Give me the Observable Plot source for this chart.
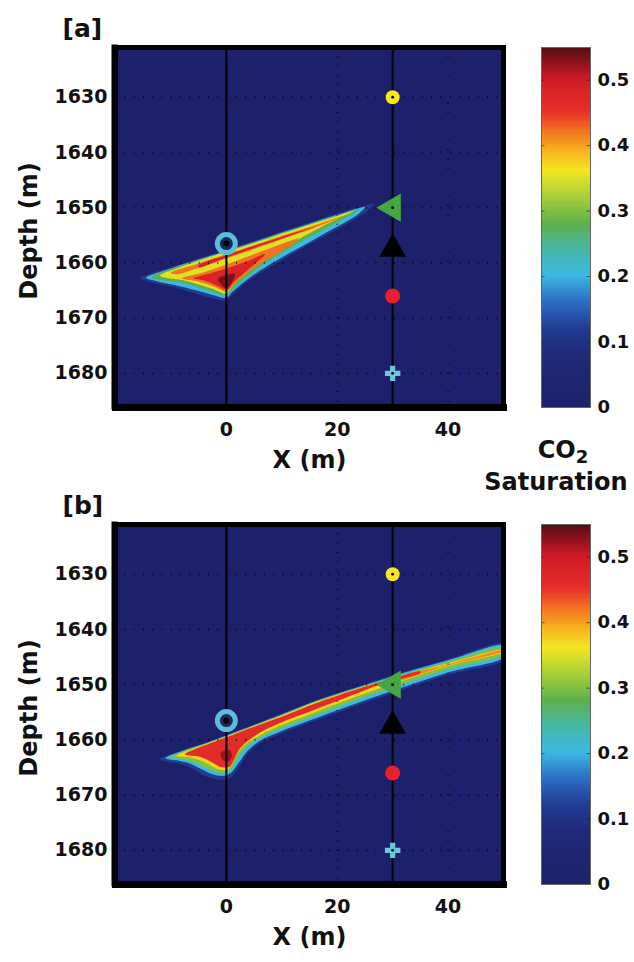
<!DOCTYPE html>
<html><head><meta charset="utf-8">
<script src="https://cdn.jsdelivr.net/npm/d3@7"></script>
<script src="https://cdn.jsdelivr.net/npm/@observablehq/plot@0.6"></script>
<style>
body{margin:0;background:#fff;}
#wrap{position:relative;width:634px;height:962px;overflow:hidden;font-family:"DejaVu Sans",sans-serif;font-weight:bold;color:#111;}
#wrap svg{position:absolute;}
.lbl{position:absolute;white-space:nowrap;transform:translate(-50%,-50%);font-size:24px;line-height:1;}
</style></head><body><div id="wrap"></div>
<script>
// ---------- data ----------
const xTicks = [0, 20, 40];
const dottedX = [20, 40];
const depthTicks = [1630, 1640, 1650, 1660, 1670, 1680];
const cbarTicks = [0, 0.1, 0.2, 0.3, 0.4, 0.5];
const stopValues = [0, 0.08, 0.12, 0.16, 0.2, 0.24, 0.28, 0.32, 0.36, 0.39, 0.42, 0.45, 0.5, 0.55];
const stopColors = ["#1d216b","#1f2a7a","#213c92","#2b6ec2","#3cb8e2","#46b6a6","#5db14a","#a8cf3a","#f3e620","#f7b21e","#f27421","#e7302a","#cf1a25","#4f0c12"];
const wells = [0, 30];
const markerKind = ["yellow", "green", "black", "red", "cyan"];
const markerX = [30, 30, 30, 30, 30];
const markerDepth = [1630, 1650, 1657.5, 1666, 1680];
const injX = [0];
const injDepth = [1656.5];

// plume contour polygons [x (m), depth (m)] with CO2 saturation level
const plumeA = [
  {level: 0.12, pts: [[-15.5,1662.8],[-10,1660.8],[-5,1659.2],[0,1657.6],[5,1656.0],[10,1654.3],[15,1652.7],[20,1651.1],[24,1649.9],[26.5,1649.4],[25.5,1650.5],[22.5,1652.5],[18,1655.0],[14,1657.2],[10,1659.5],[6,1661.9],[3,1664.0],[1,1665.8],[0,1666.8],[-2.5,1666.4],[-5,1665.7],[-8,1664.8],[-11,1664.1],[-14,1663.4]]},
  {level: 0.2, pts: [[-14.5,1662.7],[-10,1661.0],[-5,1659.4],[0,1657.8],[5,1656.2],[10,1654.5],[15,1652.9],[20,1651.3],[25,1649.9],[24,1651.0],[21.5,1652.6],[17.5,1654.8],[14,1656.8],[10,1659.0],[6,1661.4],[3,1663.6],[1,1665.3],[0,1666.3],[-2.5,1665.8],[-5,1665.1],[-8,1664.3],[-11,1663.7],[-13,1663.2]]},
  {level: 0.28, pts: [[-13.5,1662.6],[-10,1661.1],[-5,1659.5],[0,1657.9],[5,1656.3],[10,1654.6],[15,1653.0],[20,1651.4],[24,1650.3],[22,1651.6],[18.5,1653.5],[14.5,1655.6],[10.5,1657.9],[6.5,1660.4],[3.5,1662.7],[1.2,1664.7],[0,1665.9],[-2.5,1665.2],[-5,1664.4],[-8,1663.6],[-11,1663.2]]},
  {level: 0.35, pts: [[-12,1662.3],[-9,1661.0],[-5,1659.6],[0,1658.0],[5,1656.4],[10,1654.7],[15,1653.1],[20,1651.5],[23,1650.6],[20,1652.0],[16,1654.1],[12,1656.3],[8,1658.7],[5,1660.8],[2.5,1662.8],[0.8,1664.6],[0,1665.6],[-2.5,1664.7],[-5,1663.9],[-8,1663.1],[-10.5,1662.8]]},
  {level: 0.42, pts: [[-10,1661.8],[-5,1660.1],[0,1658.4],[5,1656.8],[10,1655.1],[15,1653.5],[21,1651.5],[15,1654.0],[10,1655.7],[5,1657.5],[0,1659.2],[-5,1660.9],[-9,1662.1]]},
  {level: 0.42, pts: [[-8,1662.8],[-4,1661.7],[0,1660.3],[4,1658.8],[8,1657.3],[13,1655.6],[10,1657.8],[7,1659.6],[4,1661.6],[2,1663.3],[0.5,1664.8],[0,1665.2],[-2.5,1664.2],[-5,1663.4]]},
  {level: 0.48, pts: [[-6,1662.8],[-3,1661.9],[0,1661.0],[3.5,1659.8],[7,1658.4],[5,1660.3],[3,1662.0],[1.2,1663.6],[0.2,1664.8],[-2,1664.0],[-4,1663.2]]},
  {level: 0.48, pts: [[-5,1660.4],[0,1658.6],[5,1656.9],[10,1655.3],[16,1653.4],[10,1655.6],[5,1657.3],[0,1659.0],[-5,1660.8]]},
  {level: 0.53, pts: [[-1.5,1662.9],[0,1662.2],[1.5,1662.0],[1,1663.6],[0,1664.6],[-1,1663.8]]}
];
const plumeB = [
  {level: 0.12, pts: [[-12,1663.5],[-8,1662.0],[-4,1660.6],[0,1659.1],[5,1657.2],[10,1655.2],[16,1652.9],[23,1650.6],[30,1648.3],[40,1645.4],[50.5,1642.6],[50.5,1645.2],[40,1648.2],[30,1651.5],[22,1654.3],[15,1656.9],[10,1658.8],[6,1660.6],[4,1662.3],[2.5,1664.6],[1,1666.6],[-0.5,1667.2],[-2.5,1667.0],[-4.5,1666.2],[-6.5,1665.0],[-9,1664.2]]},
  {level: 0.2, pts: [[-11,1663.3],[-8,1662.0],[-4,1660.7],[0,1659.2],[5,1657.3],[10,1655.4],[16,1653.0],[23,1650.7],[30,1648.5],[40,1645.6],[50.5,1642.9],[50.5,1644.8],[40,1647.8],[30,1651.1],[22,1653.9],[15,1656.5],[10,1658.4],[6,1660.2],[3.8,1662.0],[2.2,1664.2],[0.8,1666.0],[-0.5,1666.5],[-2.5,1666.2],[-4.5,1665.3],[-6.5,1664.3],[-9,1663.7]]},
  {level: 0.3, pts: [[-10,1663.1],[-8,1662.1],[-4,1660.8],[0,1659.3],[5,1657.4],[10,1655.5],[16,1653.1],[23,1650.8],[30,1648.7],[40,1645.8],[50.5,1643.2],[50.5,1644.3],[40,1647.2],[30,1650.5],[22,1653.3],[15,1656.0],[10,1657.9],[6,1659.7],[3.3,1661.6],[1.8,1663.8],[0.5,1665.7],[-1,1666.0],[-3,1665.4],[-5,1664.4],[-7,1663.7],[-8.5,1663.4]]},
  {level: 0.37, pts: [[-9,1662.9],[-6,1661.6],[-3,1660.5],[0,1659.4],[5,1657.5],[10,1655.6],[16,1653.2],[23,1650.9],[30,1648.9],[40,1646.1],[50.5,1643.6],[50.5,1643.9],[40,1646.6],[30,1649.9],[22,1652.7],[15,1655.4],[10,1657.3],[6,1659.2],[3,1661.2],[1.5,1663.3],[0.3,1665.3],[-1.5,1665.3],[-3,1664.5],[-5,1663.6],[-7,1663.1]]},
  {level: 0.41, pts: [[30,1649.1],[40,1646.3],[50.5,1643.65],[50.5,1643.8],[40,1646.5],[30,1649.5]]},
  {level: 0.46, pts: [[-7.5,1662.6],[-4,1661.0],[0,1659.5],[5,1657.6],[10,1655.8],[16,1653.4],[23,1651.0],[29,1649.2],[35,1647.6],[35,1647.9],[28,1649.9],[22,1652.2],[15,1654.9],[10,1656.8],[6,1658.7],[2.5,1661.5],[1.5,1663.3],[0.5,1664.9],[-1.3,1664.8],[-3,1663.8],[-5,1663.0],[-7,1662.8]]},
  {level: 0.52, pts: [[-1,1662.3],[0.5,1661.8],[1,1663.0],[0.2,1664.0],[-0.8,1663.4]]}
];
const yLabel = "Depth (m)";
const xLabel = "X (m)";
const cbarTitle = ["CO", "2", "Saturation"];

// ---------- drawing ----------
const BG = stopColors[0];
const colorScale = {type: "linear", domain: stopValues, range: stopColors, interpolate: "rgb"};
const markers = markerKind.map((k, i) => ({kind: k, x: markerX[i], d: markerDepth[i]}));
const injections = injX.map((x, i) => ({x, d: injDepth[i]}));
const sel = k => markers.filter(m => m.kind === k);
const font = {fontFamily: "DejaVu Sans", fontWeight: "bold", background: "transparent", overflow: "visible"};

function panel(plume, tag) {
  const rows = plume.flatMap((p, i) => p.pts.map(([x, d]) => ({x, d, level: p.level, id: i})));
  return Plot.plot({
    width: 520, height: 477, marginLeft: 115, marginRight: 17, marginTop: 47, marginBottom: 71,
    x: {domain: [-20, 50]},
    y: {domain: [1621, 1686], reverse: true},
    color: colorScale,
    style: font,
    marks: [
      Plot.frame({fill: BG}),
      Plot.line(rows, {x: "x", y: "d", z: "id", fill: "level", stroke: "none", curve: "catmull-rom-closed", clip: true}),
      Plot.ruleY(depthTicks, {stroke: "#000", strokeWidth: 2.2, strokeDasharray: "1,8.3", strokeOpacity: 0.7}),
      Plot.ruleX(dottedX, {stroke: "#000", strokeWidth: 2.2, strokeDasharray: "1,8.3", strokeOpacity: 0.6}),
      Plot.ruleX(wells, {stroke: "#000", strokeWidth: 2}),
      Plot.dot(sel("yellow"), {x: "x", y: "d", r: 7, fill: "#f6e81c"}),
      Plot.dot(sel("green"), {x: "x", y: "d", r: 10.5, symbol: "triangle", rotate: -90, fill: "#43a843"}),
      Plot.dot(sel("black"), {x: "x", y: "d", r: 10, symbol: "triangle", fill: "#000"}),
      Plot.dot(sel("red"), {x: "x", y: "d", r: 7.5, fill: "#e8202c"}),
      Plot.dot(sel("cyan"), {x: "x", y: "d", r: 6.5, symbol: "cross", fill: "#6cc6dc"}),
      Plot.dot(markers.filter(m => m.kind !== "black" && m.kind !== "red"), {x: "x", y: "d", r: 1.4, fill: "#000"}),
      Plot.dot(injections, {x: "x", y: "d", r: 9, stroke: "#5bbfdc", strokeWidth: 5, fill: "#1a2a5a"}),
      Plot.dot(injections, {x: "x", y: "d", r: 3, fill: "#000"}),
      Plot.frame({stroke: "#000", strokeWidth: 5}),
      Plot.frame({anchor: "bottom", stroke: "#000", strokeWidth: 7, dy: 1}),
      Plot.frame({anchor: "left", stroke: "#000", strokeWidth: 6, dx: -1}),
      Plot.axisY(depthTicks, {tickSize: 0, tickPadding: 8, fontSize: 19, label: null, tickFormat: d => String(d)}),
      Plot.axisX(xTicks, {tickSize: 0, tickPadding: 16, fontSize: 19, label: null, tickFormat: d => String(d)}),
      Plot.text([yLabel], {frameAnchor: "left", textAnchor: "middle", lineAnchor: "middle", dx: -86, dy: 4, rotate: -90, fontSize: 24, text: d => d}),
      Plot.text([xLabel], {frameAnchor: "bottom", textAnchor: "middle", lineAnchor: "middle", dy: 54, fontSize: 24, text: d => d}),
      Plot.text([tag], {frameAnchor: "top-left", textAnchor: "start", lineAnchor: "middle", dx: -53, dy: -19, fontSize: 25, text: d => d})
    ]
  });
}

function colorbar() {
  const step = 0.0025;
  const samples = d3.range(0, 0.55, step);
  return Plot.plot({
    width: 114, height: 477, marginLeft: 21, marginRight: 44, marginTop: 47, marginBottom: 70,
    x: {domain: [0, 1], axis: null},
    y: {domain: [0, 0.55]},
    color: colorScale,
    style: font,
    marks: [
      Plot.rect(samples, {x1: 0, x2: 1, y1: d => d, y2: d => Math.min(0.55, d + step * 1.5), fill: d => d, shapeRendering: "crispEdges"}),
      Plot.ruleY(cbarTicks.slice(1), {x1: 0, x2: 0.07, stroke: "#222", strokeOpacity: 0.6}),
      Plot.ruleY(cbarTicks.slice(1), {x1: 0.93, x2: 1, stroke: "#222", strokeOpacity: 0.6}),
      Plot.frame({stroke: "#666", strokeWidth: 1}),
      Plot.axisY(cbarTicks, {anchor: "right", tickSize: 0, tickPadding: 7, fontSize: 18, label: null, tickFormat: d => String(d)})
    ]
  });
}

const wrap = document.getElementById("wrap");
[[plumeA, "[a]", 0], [plumeB, "[b]", 477]].forEach(([plume, tag, top]) => {
  const p = panel(plume, tag);
  p.style.left = "0px"; p.style.top = top + "px";
  wrap.appendChild(p);
  const c = colorbar();
  c.style.left = "520px"; c.style.top = top + "px";
  wrap.appendChild(c);
});
const t1 = document.createElement("div");
t1.className = "lbl"; t1.style.left = "563px"; t1.style.top = "452px";
t1.innerHTML = cbarTitle[0] + "<sub style='font-size:18px;vertical-align:-5px'>" + cbarTitle[1] + "</sub>";
wrap.appendChild(t1);
const t2 = document.createElement("div");
t2.className = "lbl"; t2.style.left = "556px"; t2.style.top = "482px";
t2.textContent = cbarTitle[2];
wrap.appendChild(t2);
</script></body></html>
